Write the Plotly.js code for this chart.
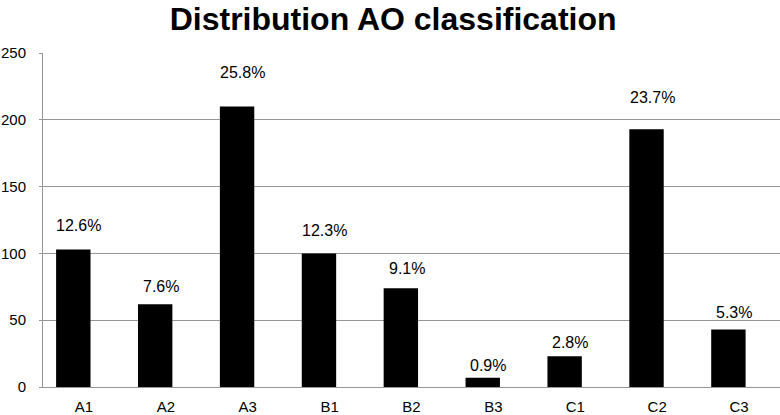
<!DOCTYPE html>
<html>
<head>
<meta charset="utf-8">
<script src="https://cdn.plot.ly/plotly-3.0.1.min.js"></script>
<style>html,body{margin:0;padding:0;background:#fff;}#chart{width:780px;height:415px;}</style>
</head>
<body>
<div id="chart"></div>
<script>
const categories = ['A1', 'A2', 'A3', 'B1', 'B2', 'B3', 'C1', 'C2', 'C3'];
const counts = [103, 62, 210, 100, 74, 7, 23, 193, 43];
const pctLabels = ['12.6%', '7.6%', '25.8%', '12.3%', '9.1%', '0.9%', '2.8%', '23.7%', '5.3%'];
const labelY = [121, 75.5, 235.5, 117.5, 89, 16.3, 33, 217, 55.5];
const yTicks = [0, 50, 100, 150, 200, 250];

const FONT = '"Liberation Sans", Arial, Helvetica, sans-serif';
const GRID = '#969696';

const trace = {
  type: 'bar',
  x: categories,
  y: counts,
  width: 0.42,
  offset: -0.34,
  marker: {color: '#000000', line: {width: 0}},
  hoverinfo: 'x+y',
  showlegend: false
};

const annotations = categories.map((c, i) => ({
  x: c, y: labelY[i], xref: 'x', yref: 'y',
  text: pctLabels[i], showarrow: false,
  xshift: -5,
  font: {family: FONT, size: 16, color: '#000'}
}));

const layout = {
  width: 780, height: 415,
  margin: {l: 43, r: 0, t: 53, b: 28, pad: 0},
  paper_bgcolor: '#ffffff', plot_bgcolor: '#ffffff',
  font: {family: FONT, size: 15, color: '#000'},
  title: {
    text: '<b>Distribution AO classification</b>',
    font: {family: FONT, size: 32, color: '#000'},
    xref: 'container', x: 0.504, xanchor: 'center',
    yref: 'container', y: 0.955, yanchor: 'middle'
  },
  xaxis: {
    type: 'category',
    range: [-0.5, 8.5],
    showgrid: false,
    showline: true, linecolor: GRID, linewidth: 1,
    ticks: '', ticklabelstandoff: 6,
    tickfont: {family: FONT, size: 15, color: '#000'},
    zeroline: false, fixedrange: true
  },
  yaxis: {
    range: [0, 250],
    tickvals: yTicks,
    ticktext: yTicks.map(String),
    showgrid: true, gridcolor: GRID, gridwidth: 1,
    showline: true, linecolor: GRID, linewidth: 1,
    ticks: 'outside', ticklen: 3, tickcolor: GRID,
    ticklabelstandoff: 10,
    tickfont: {family: FONT, size: 15, color: '#000'},
    zeroline: false, fixedrange: true
  },
  bargap: 0.5,
  annotations: annotations
};

Plotly.newPlot('chart', [trace], layout, {displayModeBar: false, staticPlot: true});
</script>
</body>
</html>
